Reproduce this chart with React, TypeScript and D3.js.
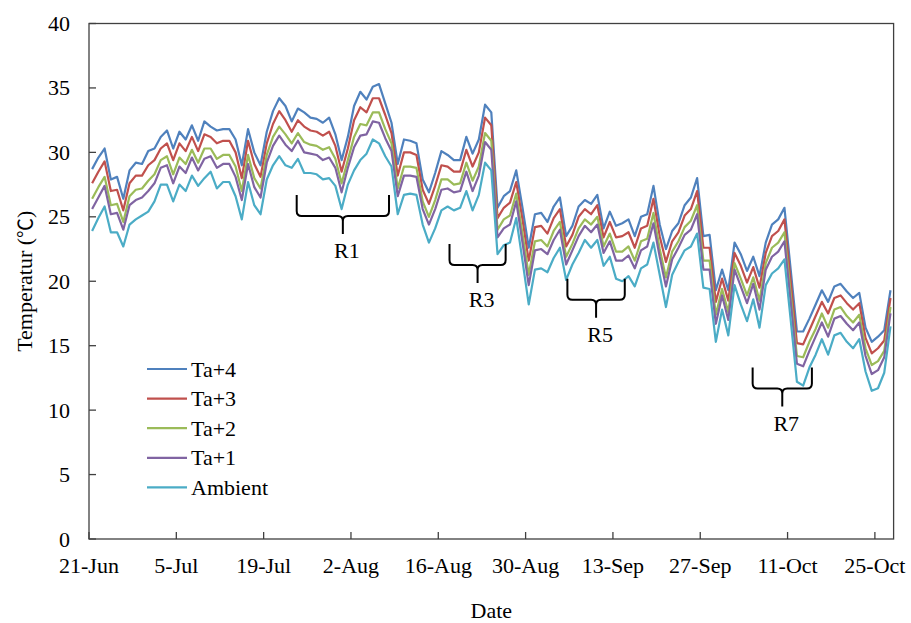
import * as d3 from "d3";

// daily mean temperature (°C), one value per day from 21-Jun
const ta4 = [28.7,29.6,30.3,27.9,28.1,26.4,28.6,29.2,29.1,30.1,
  30.3,31.2,31.7,30.3,31.6,31.0,32.1,30.9,32.4,32.0,
  31.7,31.8,31.8,31.0,29.0,31.8,30.0,29.0,31.6,33.2,
  34.2,33.6,32.4,33.4,33.1,32.7,32.6,32.3,32.7,31.4,
  29.4,31.2,33.6,34.7,34.1,35.1,35.3,33.8,32.3,29.1,
  31.0,30.9,30.7,27.9,26.9,28.4,30.1,29.8,29.4,29.4,
  31.2,29.9,31.0,33.7,33.1,25.7,26.6,27.0,28.6,25.7,
  22.6,25.2,25.3,24.6,25.8,26.5,23.5,24.3,25.8,26.3,
  26.0,26.7,24.1,25.4,24.3,24.5,24.8,23.5,25.0,25.2,
  27.4,24.4,22.5,23.9,24.5,25.9,26.5,28.0,23.5,23.6,
  19.3,20.9,19.3,23.0,22.1,20.8,21.9,20.4,23.0,24.4,
  24.8,25.7,20.9,16.1,16.1,17.1,18.2,19.3,18.4,19.6,
  19.8,19.2,18.7,19.1,16.4,15.3,15.7,16.2,19.3];

const ta3 = [27.6,28.5,29.3,27.0,27.1,25.5,27.6,28.2,28.2,29.0,
  29.4,30.3,30.7,29.4,30.7,30.1,31.2,30.1,31.4,31.2,
  30.7,30.9,30.9,30.0,28.0,30.9,29.1,28.1,30.7,32.2,
  33.2,32.5,31.6,32.5,32.0,31.7,31.6,31.3,31.6,30.5,
  28.5,30.3,32.5,33.5,33.1,34.2,34.2,32.9,31.5,28.2,
  30.0,30.0,29.8,27.1,26.0,27.4,29.0,28.9,28.5,28.5,
  30.2,28.9,30.0,32.7,32.1,24.9,25.7,26.1,27.7,24.8,
  21.6,24.2,24.3,23.7,24.9,25.6,22.7,23.6,25.0,25.6,
  25.2,25.9,23.4,24.6,23.4,23.5,23.8,22.6,24.1,24.3,
  26.4,23.5,21.5,23.1,23.8,25.1,25.6,27.0,22.6,22.6,
  18.4,20.2,18.5,22.2,21.2,19.9,21.1,19.5,22.2,23.5,
  23.9,24.8,20.0,15.2,15.1,16.2,17.3,18.4,17.5,18.7,
  18.9,18.3,17.8,18.3,15.6,14.4,14.8,15.4,18.7];

const ta2 = [26.4,27.3,28.1,25.9,26.0,24.6,26.6,27.1,27.2,27.8,
  28.3,29.4,29.7,28.3,29.6,29.1,30.2,29.2,30.3,30.3,
  29.5,29.8,29.8,28.9,27.0,29.8,28.0,27.2,29.8,31.2,
  32.0,31.4,30.7,31.5,30.8,30.6,30.5,30.2,30.4,29.5,
  27.6,29.4,31.2,32.2,32.1,33.1,33.1,31.8,30.7,27.2,
  28.9,28.9,28.8,26.2,25.0,26.3,27.9,27.9,27.5,27.6,
  29.2,27.8,28.9,31.5,30.9,24.0,24.8,25.1,26.8,23.7,
  20.5,23.1,23.2,22.7,23.9,24.6,21.9,22.9,24.1,24.8,
  24.4,25.0,22.7,23.7,22.3,22.3,22.7,21.6,23.1,23.3,
  25.3,22.5,20.3,22.3,23.1,24.2,24.7,25.9,21.6,21.6,
  17.4,19.4,17.6,21.4,20.2,18.9,20.3,18.5,21.4,22.6,
  23.0,23.8,19.0,14.2,14.1,15.3,16.3,17.5,16.4,17.8,
  18.0,17.3,16.8,17.4,14.8,13.5,13.8,14.6,18.0];

const ta1 = [25.6,26.5,27.4,25.2,25.3,24.0,25.9,26.3,26.5,27.0,
  27.6,28.8,29.0,27.6,28.9,28.4,29.6,28.6,29.5,29.7,
  28.8,29.1,29.1,28.1,26.3,29.1,27.3,26.5,29.2,30.5,
  31.3,30.6,30.1,30.9,30.0,29.9,29.8,29.4,29.6,28.8,
  26.9,28.8,30.4,31.3,31.4,32.4,32.3,31.1,30.1,26.6,
  28.2,28.2,28.1,25.6,24.4,25.6,27.1,27.2,26.9,27.0,
  28.5,27.0,28.2,30.8,30.2,23.4,24.1,24.4,26.2,23.0,
  19.7,22.4,22.5,22.1,23.2,24.0,21.3,22.4,23.5,24.3,
  23.8,24.4,22.2,23.1,21.6,21.6,22.0,21.0,22.4,22.7,
  24.5,21.9,19.6,21.7,22.6,23.6,24.0,25.2,20.9,20.9,
  16.7,18.9,17.0,20.9,19.6,18.3,19.8,17.8,20.9,21.9,
  22.3,23.1,18.4,13.6,13.4,14.6,15.7,16.8,15.7,17.1,
  17.3,16.7,16.2,16.8,14.2,12.8,13.1,14.1,17.5];

const ambient = [23.9,24.9,25.8,23.8,23.8,22.7,24.4,24.8,25.1,25.4,
  26.2,27.5,27.5,26.2,27.5,27.0,28.2,27.4,28.0,28.5,
  27.2,27.7,27.7,26.6,24.8,27.7,25.9,25.2,27.9,29.0,
  29.7,29.0,28.8,29.5,28.4,28.4,28.3,27.9,28.0,27.4,
  25.6,27.5,28.6,29.4,29.9,31.0,30.7,29.7,28.9,25.2,
  26.7,26.8,26.7,24.4,23.0,24.1,25.5,25.8,25.5,25.7,
  27.0,25.5,26.7,29.2,28.6,22.1,22.8,23.0,24.9,21.6,
  18.2,20.9,21.0,20.7,21.8,22.6,20.1,21.3,22.2,23.2,
  22.6,23.2,21.2,21.9,20.2,20.0,20.4,19.6,21.0,21.3,
  23.0,20.5,18.0,20.5,21.5,22.4,22.7,23.7,19.5,19.4,
  15.3,17.8,15.8,19.7,18.2,16.9,18.6,16.4,19.7,20.6,
  21.0,21.7,17.0,12.2,11.9,13.3,14.3,15.5,14.3,15.8,
  16.0,15.3,14.8,15.5,13.0,11.5,11.7,12.9,16.5];

const seriesNames = ["Ta+4", "Ta+3", "Ta+2", "Ta+1", "Ambient"];
const seriesValues = [ta4, ta3, ta2, ta1, ambient];
const seriesColors = ["#4F81BD", "#C0504D", "#9BBB59", "#8064A2", "#4BACC6"];

// marked periods: start / end as days after 21-Jun, top of bracket in °C
const regionLabels = ["R1", "R3", "R5", "R7"];
const regionFrom = [33.3, 57.8, 76.7, 106.4];
const regionTo = [48.1, 66.8, 85.9, 115.9];
const regionTop = [26.7, 22.9, 20.2, 13.3];

const yTicks = [0, 5, 10, 15, 20, 25, 30, 35, 40];

const W = 911;
const H = 623;
const FONT = '"Liberation Serif", "Times New Roman", serif';
const FS = 22;

export default function App() {
  const t0 = new Date(Date.UTC(2019, 5, 21));
  const t1 = d3.utcDay.offset(t0, ambient.length);
  const dayMs = 864e5;

  const x = d3.scaleUtc().domain([t0, t1]).range([89, 893.6]);
  const y = d3.scaleLinear().domain([0, 40]).range([539, 23.5]);
  const dayX = (d: number) => x(new Date(+t0 + d * dayMs));

  const xTicks = d3.utcDay.range(t0, t1, 14);
  const fmt = d3.utcFormat("%-d-%b");

  const line = d3
    .line<number>()
    .x((_, i) => dayX(i + 0.5))
    .y((d) => y(d));

  const [x0, x1] = x.range();
  const [yb, yt] = y.range();

  return (
    <div style={{ position: "absolute", left: 0, top: 0 }}>
      <svg width={W} height={H} style={{ display: "block", background: "#fff" }} fontFamily={FONT}>
        {/* series */}
        {seriesValues.map((vals, k) => (
          <path
            key={seriesNames[k]}
            d={line(vals) || ""}
            fill="none"
            stroke={seriesColors[k]}
            strokeWidth={2.2}
            strokeLinejoin="round"
          />
        ))}

        {/* plot frame */}
        <rect x={x0} y={yt} width={x1 - x0} height={yb - yt} fill="none" stroke="#404040" strokeWidth={1.3} />

        {/* y axis */}
        {yTicks.map((v) => (
          <g key={"y" + v}>
            <line x1={x0} x2={x0 + 7} y1={y(v)} y2={y(v)} stroke="#404040" strokeWidth={1.3} />
            <text x={70} y={y(v)} textAnchor="end" dominantBaseline="central" fontSize={FS}>
              {v}
            </text>
          </g>
        ))}

        {/* x axis */}
        {xTicks.map((t) => (
          <g key={+t}>
            <line x1={x(t)} x2={x(t)} y1={yb} y2={yb - 7} stroke="#404040" strokeWidth={1.3} />
            <text x={x(t)} y={573} textAnchor="middle" fontSize={FS}>
              {fmt(t)}
            </text>
          </g>
        ))}

        <text x={(x0 + x1) / 2} y={618} textAnchor="middle" fontSize={FS}>
          Date
        </text>
        <text
          transform={`translate(24,${(yb + yt) / 2}) rotate(-90)`}
          textAnchor="middle"
          dominantBaseline="central"
          fontSize={FS}
        >
          Temperatur (<tspan fontFamily='"Noto Sans CJK SC", sans-serif' fontSize={20}>℃</tspan>)
        </text>

        {/* region brackets */}
        {regionLabels.map((lab, k) => {
          const xa = dayX(regionFrom[k]);
          const xb = dayX(regionTo[k]);
          const xc = (xa + xb) / 2;
          const top = y(regionTop[k]);
          const bar = top + 21;
          const stem = bar + 18;
          const r = 5;
          const d =
            `M${xa},${top} L${xa},${bar - r} Q${xa},${bar} ${xa + r},${bar} L${xc - r},${bar} Q${xc},${bar} ${xc},${bar + r} L${xc},${stem}` +
            ` M${xb},${top} L${xb},${bar - r} Q${xb},${bar} ${xb - r},${bar} L${xc + r},${bar} Q${xc},${bar} ${xc},${bar + r}`;
          return (
            <g key={lab}>
              <path d={d} fill="none" stroke="#000" strokeWidth={2} />
              <text x={xc + 4} y={stem + 17} textAnchor="middle" dominantBaseline="central" fontSize={FS}>
                {lab}
              </text>
            </g>
          );
        })}

        {/* legend */}
        {seriesNames.map((name, k) => {
          const ly = 369 + k * 29.6;
          return (
            <g key={"lg" + name}>
              <line x1={147} x2={187} y1={ly} y2={ly} stroke={seriesColors[k]} strokeWidth={2.2} />
              <text x={191} y={ly} dominantBaseline="central" fontSize={FS}>
                {name}
              </text>
            </g>
          );
        })}
      </svg>
    </div>
  );
}
